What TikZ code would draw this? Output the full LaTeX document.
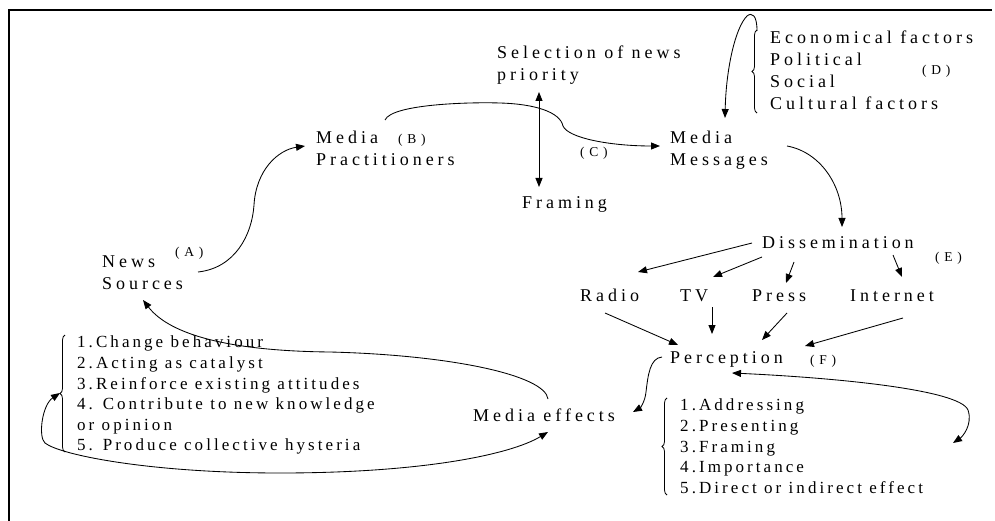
\documentclass[tikz,border=0pt]{standalone}
\usepackage{fontspec}
\usetikzlibrary{arrows.meta,decorations.pathreplacing,calc}
\newfontfamily\labfont[LetterSpace=22]{Liberation Serif}
\newfontfamily\listfont[LetterSpace=18]{Liberation Serif}
\newfontfamily\tagfont[LetterSpace=35]{Liberation Serif}
\begin{document}
\begin{tikzpicture}[x=1pt,y=-1pt,
  lab/.style={inner sep=0pt, font=\labfont\fontsize{18}{22}\selectfont, align=left, anchor=north west},
  one/.style={inner sep=0pt, font=\labfont\fontsize{18}{22}\selectfont, text height=12pt, text depth=0pt, anchor=west},
  lst/.style={inner sep=0pt, font=\listfont\fontsize{17}{20.6}\selectfont, align=left, anchor=north west},
  tag/.style={inner sep=0pt, font=\tagfont\fontsize{13.5}{15}\selectfont, text height=9.5pt, text depth=0pt, anchor=west},
  link/.style={line width=0.85pt, -{Triangle[length=9pt,width=7pt]}},
  twoway/.style={line width=0.85pt, {Triangle[length=9pt,width=7pt]}-{Triangle[length=9pt,width=7pt]}},
  brc/.style={line width=0.8pt, decorate, decoration={brace, amplitude=5pt}},
  pageframe/.style={line width=2.2pt, line join=miter}]
\useasboundingbox (0,0) rectangle (995,521);
\draw[pageframe] (992,10) -- (9,10) -- (9,521);

% sources, practitioners and gatekeeping
\node[lab] (src) at (102,256) {News\\Sources};
\node[tag] (tA) at (175,252) {(A)};
\node[lab] (prac) at (316,131) {Media\\Practitioners};
\node[tag] (tB) at (398,139) {(B)};
\node[lab] (sel) at (497,46) {Selection of news\\priority};
\node[one] (fram) at (522,203) {Framing};
\node[tag] (tC) at (580,152) {(C)};

% messages and their factors
\node[lab] (msg) at (670,131) {Media\\Messages};
\node[lab] (fac) at (770,31) {Economical factors\\Political\\Social\\Cultural factors};
\node[tag] (tD) at (922,70) {(D)};

% dissemination channels
\node[one] (dis) at (762,243) {Dissemination};
\node[tag] (tE) at (935,257) {(E)};
\node[one] (radio) at (580,295) {Radio};
\node[one] (tv) at (680,295) {TV};
\node[one] (press) at (752,295) {Press};
\node[one] (inet) at (850,295) {Internet};

% perception and effects
\node[one] (perc) at (670,357) {Perception};
\node[tag] (tF) at (810,360) {(F)};
\node[one] (eff) at (473,415) {Media effects};
\node[lst] (plist) at (680,399) {1.Addressing\\2.Presenting\\3.Framing\\4.Importance\\5.Direct or indirect effect};
\node[lst] (elist) at (77,336) {1.Change behaviour\\2.Acting as catalyst\\3.Reinforce existing attitudes\\4. Contribute to new knowledge\\or opinion\\5. Produce collective hysteria};

% braces
\draw[brc] ($(fac.north west)+(-13,82)$) -- ($(fac.north west)+(-13,-1)$);
\draw[brc] ($(plist.north west)+(-13,96)$) -- ($(plist.north west)+(-13,-1)$);
\draw[brc] ($(elist.north west)+(-12,116)$) -- ($(elist.north west)+(-12,-1)$);

% main chain
\draw[link] ($(src.north west)+(96,16)$) .. controls (235,268) and (252,235) .. (254,205)
  .. controls (256,170) and (278,150) .. ($(prac.north west)+(-11,15)$);
\draw[link] ($(prac.north west)+(69,-11)$) .. controls (392,104) and (470,102) .. (500,103)
  .. controls (535,104) and (560,112) .. (563,126)
  .. controls (568,138) and (610,146) .. ($(msg.north west)+(-10,15)$);
\draw[twoway] ($(sel.north west)+(42,46)$) -- ($(fram.west)+(17,-16)$);
\draw[link] ($(fac.north west)+(-13,0)$) .. controls (757,15) and (752,12) .. (747,16)
  .. controls (735,28) and (726,70) .. ($(msg.north west)+(55,-13)$);
\draw[link] ($(msg.north west)+(117,15)$) .. controls (820,152) and (842,185) .. ($(dis.west)+(80,-16)$);

% channels
\draw[link] ($(dis.west)+(-10,0)$) -- ($(radio.west)+(58,-23)$);
\draw[link] ($(dis.west)+(0,14)$) -- ($(tv.west)+(33,-18)$);
\draw[link] ($(dis.west)+(32,19)$) -- ($(press.west)+(34,-12)$);
\draw[link] ($(dis.west)+(131,12)$) -- ($(inet.west)+(52,-18)$);
\draw[link] ($(radio.west)+(25,18)$) -- ($(perc.west)+(8,-12)$);
\draw[link] ($(tv.west)+(32,12)$) -- ($(perc.west)+(42,-23)$);
\draw[link] ($(press.west)+(35,18)$) -- ($(perc.west)+(92,-17)$);
\draw[link] ($(inet.west)+(53,23)$) -- ($(perc.west)+(135,-11)$);

% perception, effects and feedback
\draw[link] ($(perc.west)+(-8,0)$) .. controls (650,358) and (648,375) .. (646,392)
  .. controls (645,402) and (640,408) .. ($(eff.west)+(160,-3)$);
\draw[twoway] ($(perc.west)+(62,16)$) .. controls (840,378) and (960,390) .. (968,410)
  .. controls (973,425) and (962,437) .. ($(plist.north west)+(273,44)$);
\draw[link] ($(eff.west)+(75,-16)$) .. controls (545,375) and (450,355) .. (330,352)
  .. controls (230,351) and (170,335) .. ($(src.north west)+(41,44)$);
\draw[twoway] ($(eff.west)+(75,17)$) .. controls (510,455) and (420,473) .. (280,473)
  .. controls (150,473) and (60,455) .. (45,443)
  .. controls (38,437) and (42,405) .. ($(elist.north west)+(-17,57)$);
\end{tikzpicture}
\end{document}
